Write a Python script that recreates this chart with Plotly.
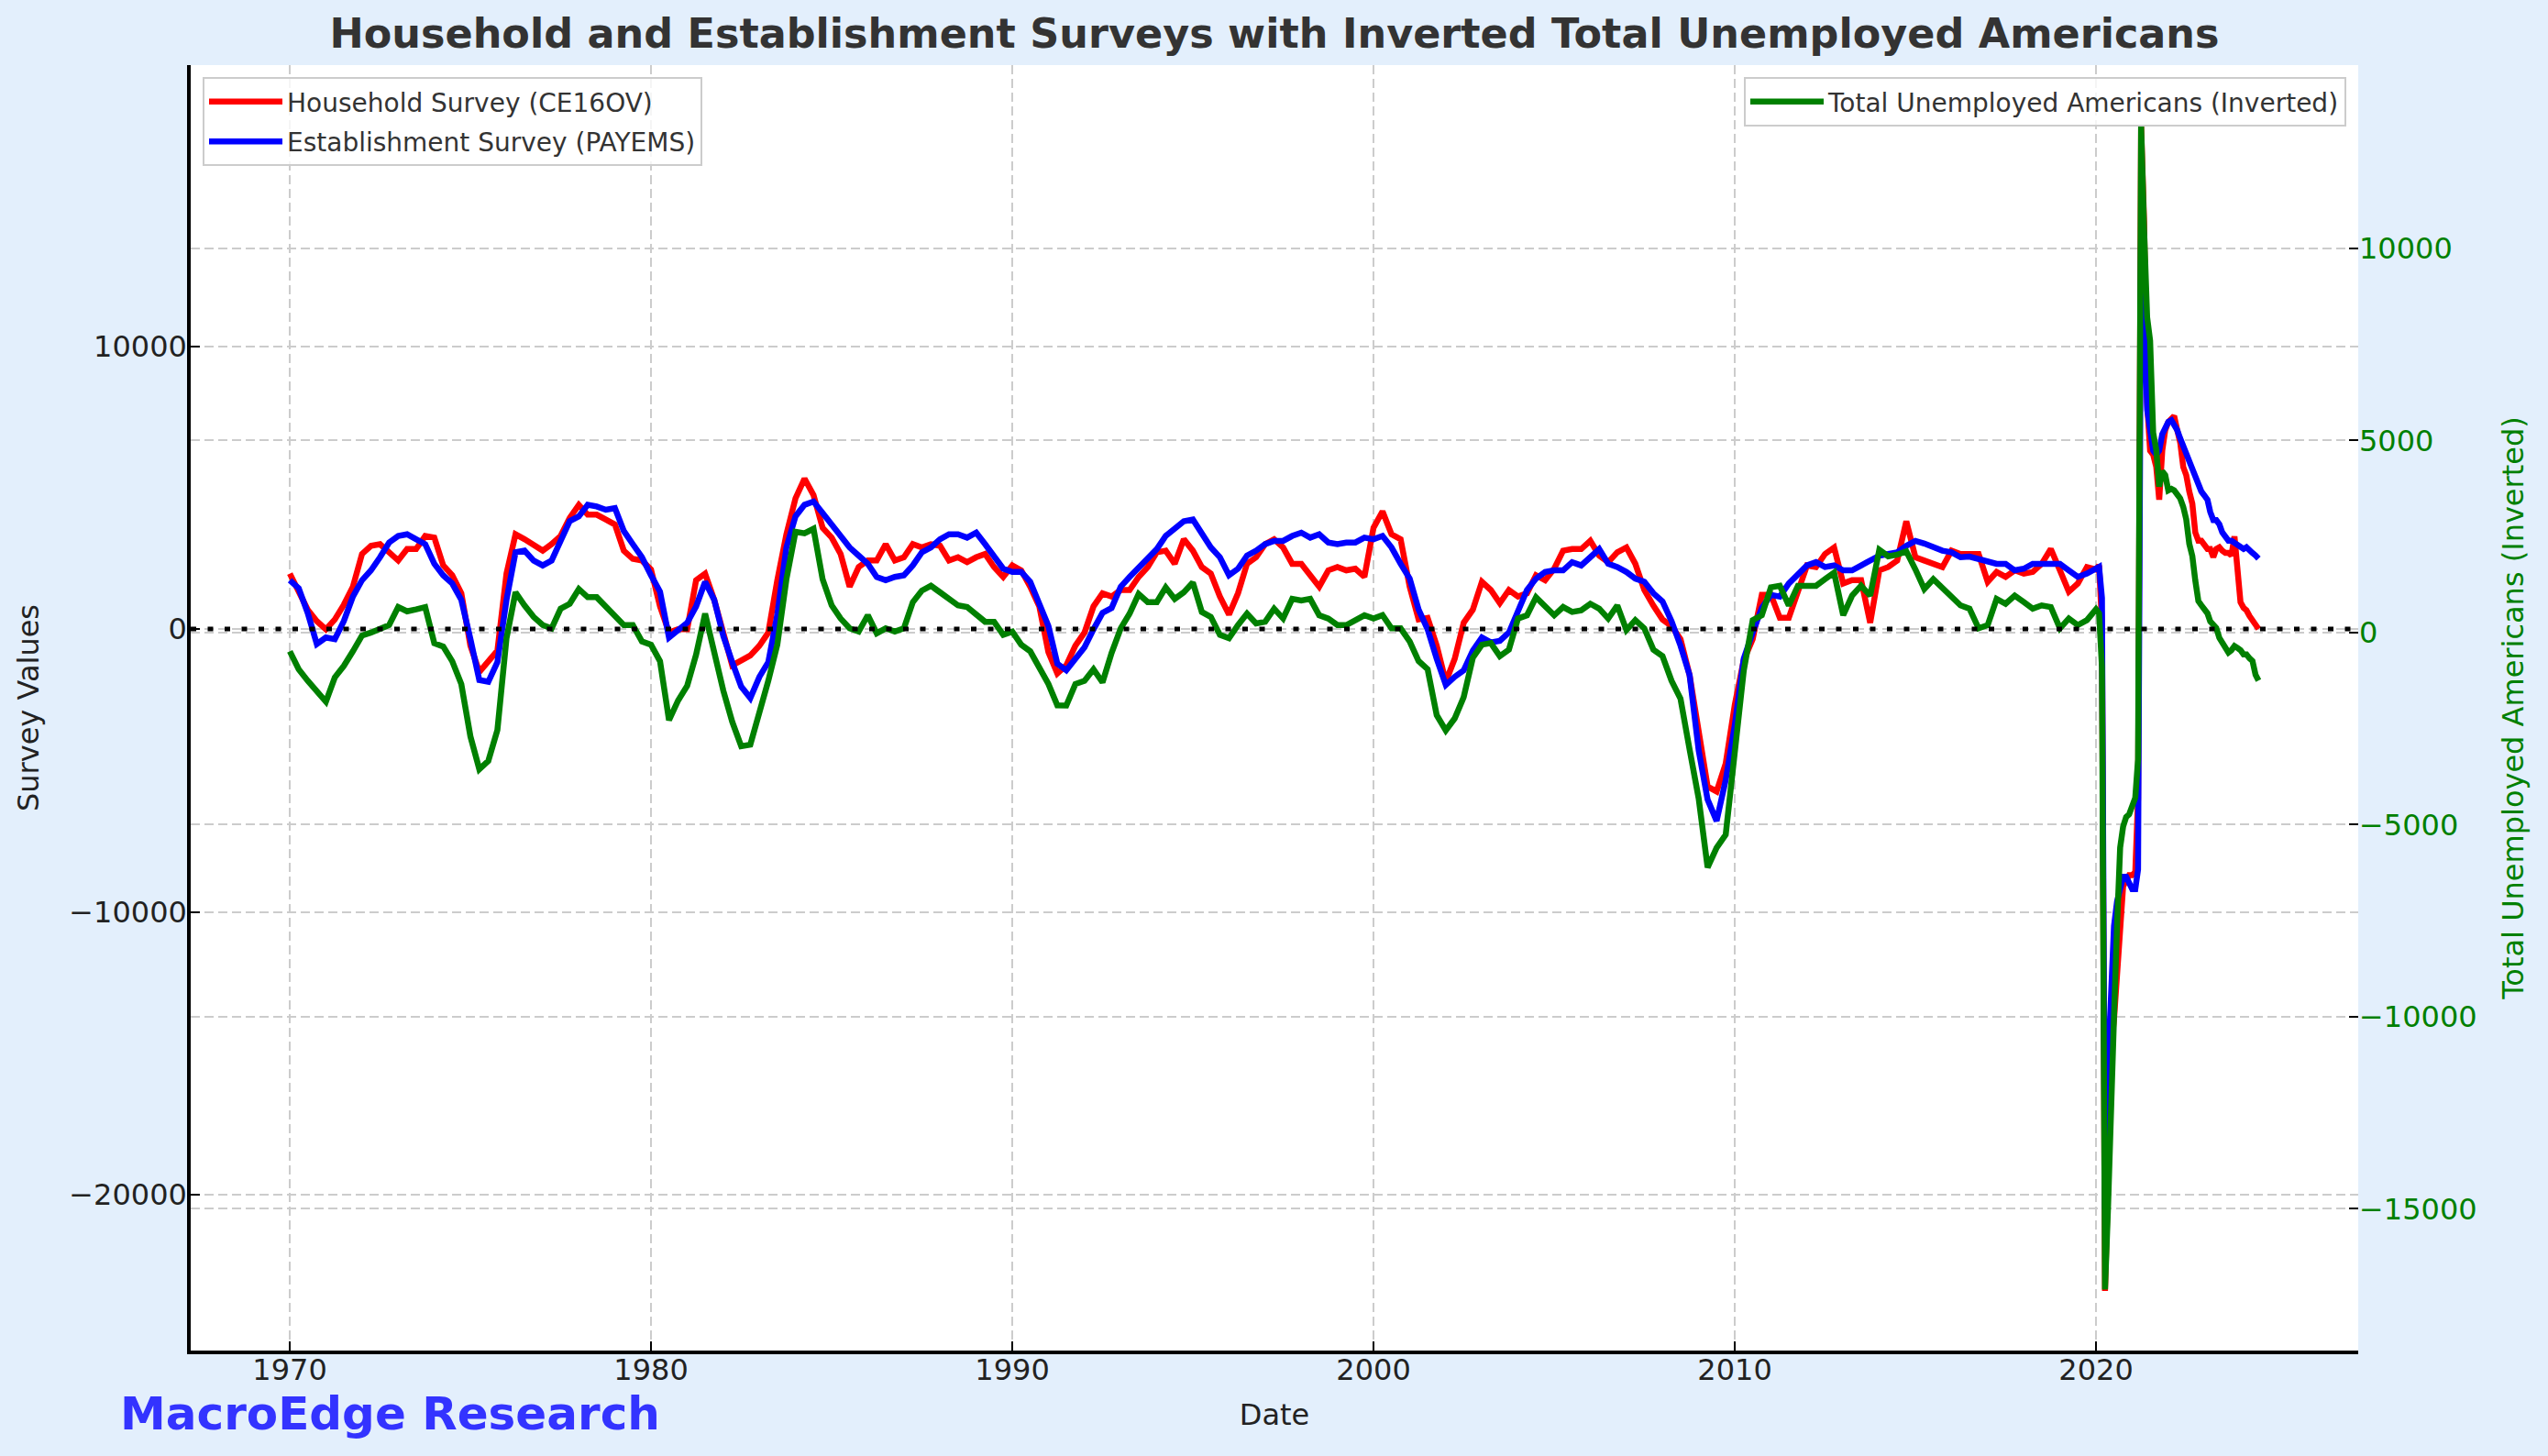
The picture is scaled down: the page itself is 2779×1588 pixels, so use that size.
import pandas as pd
import plotly.graph_objects as go

# ---------------- data (YoY change, thousands) ----------------
quarter_dates = pd.date_range("1970-01-01", "2019-10-01", freq="QS")
month_dates = pd.date_range("2020-01-01", "2024-07-01", freq="MS")

household_q = [
    1957, 1262, 683, 278, -12, 336, 857, 1494, 2652, 2941, 2999, 2710,
    2420, 2826, 2826, 3289, 3231, 2247, 1899, 1262, -591, -1517, -1170, -764,
    1957, 3347, 3173, 2999, 2768, 2999, 3289, 3926, 4389, 4041, 4041, 3868,
    3694, 2768, 2478, 2420,
    2100, 799, -127, -12, -12, 1725, 1957, 1031, -127, -1285, -1112, -938,
    -591, -127, 1725, 3347, 4620, 5315, 4736, 3578, 3231, 2652, 1494, 2189,
    2420, 2420, 2999, 2420, 2536, 2999, 2883, 2999, 2941, 2420, 2536, 2362,
    2536, 2652, 2189, 1841,
    2247, 2073, 1494, 799, -822, -1575, -1285, -591, -127, 799, 1262, 1146,
    1378, 1378, 1841, 2189, 2710, 2768, 2304, 3173, 2768, 2189, 1957, 1146,
    510, 1262, 2304, 2536, 2999, 3173, 2883, 2304, 2304, 1899, 1494, 2073,
    2189, 2073, 2131, 1841,
    3578, 4157, 3347, 3173, 1494, 336, 394, -591, -1864, -1054, 220, 683,
    1668, 1378, 915, 1378, 1146, 1262, 1899, 1725, 2131, 2768, 2826, 2826,
    3115, 2594, 2362, 2710, 2883, 2304, 1378, 822, 336, 104, -359, -1633,
    -3717, -5570, -5744, -4759,
    -2675, -1112, -359, 1204, 1204, 394, 394, 1262, 2247, 2189, 2652, 2883,
    1610, 1725, 1725, 220, 2073, 2189, 2420, 3810, 2536, 2420, 2304, 2189,
    2768, 2652, 2652, 2652, 1668, 2015, 1841, 2073, 1957, 2015, 2304, 2826,
    2073, 1320, 1610, 2189,
]
household_m = [
    2100, 2250, 200, -23400, -19700, -14800, -13800, -12400, -10700, -9100, -8900, -8700,
    -8700, -8600, -6000, 17800, 14400, 8000, 6300, 6160, 5730, 4570, 6310, 7030,
    7320, 7470, 7530, 7030, 6600, 5730, 5440, 4860, 4430, 3410, 3120, 3120,
    2980, 2830, 2830, 2540, 2830, 2890, 2770, 2690, 2690, 2600, 3270, 2250,
    950, 750, 660, 460, 280, 140, 0,
]

establishment_q = [
    1725, 1436, 567, -533, -301, -359, 278, 1146, 1725, 2073, 2536, 3057,
    3289, 3347, 3173, 2999, 2304, 1899, 1610, 1031, -359, -1806, -1864, -1170,
    1031, 2710, 2768, 2420, 2247, 2420, 3115, 3810, 3983, 4389, 4331, 4215,
    4273, 3462, 2999, 2536,
    1899, 1320, -301, -12, 220, 799, 1668, 1031, -243, -1170, -2038, -2443,
    -1691, -1170, 510, 2883, 3983, 4389, 4505, 4099, 3694, 3231, 2883, 2594,
    2304, 1841, 1725, 1841, 1899, 2247, 2710, 2883, 3173, 3347, 3347, 3231,
    3405, 2999, 2536, 2131,
    2015, 2015, 1668, 915, 104, -1227, -1459, -1054, -648, -12, 567, 741,
    1494, 1841, 2189, 2536, 2826, 3289, 3578, 3810, 3868, 3405, 2883, 2536,
    1899, 2131, 2594, 2768, 2999, 3115, 3115, 3289, 3405, 3231, 3347, 3057,
    2999, 3057, 3057, 3231,
    3173, 3289, 2883, 2304, 1783, 683, -12, -1054, -1980, -1691, -1459, -764,
    -301, -475, -417, -127, 683, 1378, 1783, 2015, 2073, 2073, 2362, 2247,
    2536, 2826, 2304, 2189, 2015, 1783, 1668, 1262, 973, 278, -591, -1633,
    -4296, -6033, -6786, -5339,
    -3400, -1054, -127, 741, 1204, 1146, 1610, 1957, 2247, 2362, 2189, 2247,
    2073, 2073, 2247, 2420, 2594, 2652, 2710, 2941, 3115, 3022, 2883, 2768,
    2710, 2536, 2560, 2478, 2362, 2304, 2304, 2073, 2131, 2304, 2304, 2304,
    2304, 2073, 1841, 1957,
]
establishment_m = [
    2110, 2197, 1095, -20500, -15500, -12500, -10500, -9630, -9050, -8760, -8760, -9050,
    -9200, -9200, -8500, 13800, 11700, 7760, 6890, 6310, 6165, 6310, 6890, 7170,
    7320, 7380, 7240, 7030, 6740, 6450, 6165, 6020, 5730, 5440, 5150, 4860,
    4720, 4570, 4140, 3850, 3850, 3700, 3410, 3270, 3120, 3120, 3030, 2980,
    2890, 2830, 2890, 2750, 2690, 2600, 2490,
]

unemployed_inv_q = [
    -488, -957, -1255, -1552, -1800, -1168, -870, -488, -79, -2, 109, 194,
    663, 552, 603, 663, -277, -363, -746, -1343, -2704, -3557, -3344, -2534,
    -147, 1047, 706, 407, 194, 109, 620, 748, 1132, 919, 919, 663,
    450, 194, 194, -232,
    -317, -746, -2280, -1768, -1386, -576, 492, -576, -1513, -2323, -2960, -2917,
    -2108, -1255, -317, 1388, 2624, 2581, 2700, 1388, 706, 365, 109, 24,
    450, -19, 109, 24, 109, 791, 1089, 1217, 1047, 876, 706, 663,
    450, 280, 280, -61,
    24, -317, -488, -914, -1340, -1894, -1900, -1340, -1255, -957, -1298, -531,
    109, 492, 1004, 791, 791, 1175, 876, 1047, 1302, 535, 407, -61,
    -147, 194, 492, 237, 280, 620, 365, 876, 833, 876, 450, 365,
    194, 194, 322, 450,
    365, 450, 109, 109, -232, -743, -957, -2150, -2550, -2235, -1682, -659,
    -317, -274, -615, -445, 365, 450, 919, 706, 450, 663, 535, 578,
    748, 620, 365, 706, 66, 322, 109, -445, -615, -1255, -1724, -3045,
    -4324, -6114, -5603, -5262,
    -3200, -1000, 322, 450, 1175, 1217, 706, 1217, 1217, 1217, 1388, 1558,
    450, 961, 1217, 961, 2155, 1984, 2027, 2112, 1643, 1132, 1388, 1175,
    961, 706, 620, 109, 194, 876, 748, 961, 791, 620, 706, 663,
    109, 365, 194, 322,
]
unemployed_inv_m = [
    606, 500, -900, -17100, -15000, -11700, -10000, -7600, -5600, -5050, -4800, -4730,
    -4510, -4300, -3300, 13200, 10500, 8200, 7600, 5200, 4760, 3800, 4200, 4100,
    3700, 3740, 3700, 3590, 3490, 3270, 2950, 2310, 1990, 1350, 820, 710,
    610, 500, 290, 180, 120, -140, -250, -400, -520, -460, -350, -400,
    -460, -570, -570, -670, -740, -1100, -1250,
]

dates = list(quarter_dates) + list(month_dates)
household = household_q + household_m
establishment = establishment_q + establishment_m
unemployed_inv = unemployed_inv_q + unemployed_inv_m
assert len(household) == len(dates) == len(establishment) == len(unemployed_inv)

x_ticks = ["1970-01-01", "1980-01-01", "1990-01-01", "2000-01-01", "2010-01-01", "2020-01-01"]
x_ticktext = ["1970", "1980", "1990", "2000", "2010", "2020"]
left_ticks = [-20000, -10000, 0, 10000]
left_ticktext = ["\u221220000", "\u221210000", "0", "10000"]
right_ticks = [-15000, -10000, -5000, 0, 5000, 10000]
right_ticktext = ["\u221215000", "\u221210000", "\u22125000", "0", "5000", "10000"]

X_RANGE = ["1967-04-05", "2027-04-05"]
Y_RANGE = [-25510, 19935]
Y2_RANGE = [-18690, 14770]

FONT = "DejaVu Sans"
GRID = "#cccccc"
BG = "#e3effc"

fig = go.Figure()
fig.add_trace(go.Scatter(x=dates, y=household, mode="lines", name="Household Survey (CE16OV)",
                         line=dict(color="#ff0000", width=6.5), legend="legend", legendgroup="hh"))
fig.add_trace(go.Scatter(x=dates, y=establishment, mode="lines", name="Establishment Survey (PAYEMS)",
                         line=dict(color="#0000ff", width=6.5), legend="legend", legendgroup="es"))
fig.add_trace(go.Scatter(x=dates, y=unemployed_inv, mode="lines", name="Total Unemployed Americans (Inverted)",
                         line=dict(color="#008000", width=6.5), yaxis="y2", legend="legend2"))

fig.add_shape(type="line", xref="x domain", x0=0, x1=1, yref="y", y0=0, y1=0,
              line=dict(color="black", width=5, dash="6px,12.5px"), layer="above")

tick_font = dict(family=FONT, size=32, color="#222222")
fig.update_layout(
    width=2779, height=1588, autosize=False,
    paper_bgcolor=BG, plot_bgcolor="white",
    margin=dict(l=208, r=207, t=71, b=115, autoexpand=False),
    font=dict(family=FONT, color="#222222"),
    title=dict(text="Household and Establishment Surveys with Inverted Total Unemployed Americans",
               font=dict(family=FONT, size=44.5, color="#333333", weight="bold"),
               x=0.5, xref="paper", xanchor="center", y=0.977, yref="container", yanchor="middle"),
    xaxis=dict(type="date", range=X_RANGE, tickvals=x_ticks, ticktext=x_ticktext,
               showline=True, linecolor="black", linewidth=3.5, automargin=False,
               ticks="inside", ticklen=10, tickwidth=2, tickcolor="black",
               showgrid=True, gridcolor=GRID, gridwidth=1.5, griddash="10px,5px",
               zeroline=False, tickfont=tick_font, ticklabelstandoff=-10,
               title=dict(text="Date", font=dict(family=FONT, size=32, color="#222222"), standoff=20)),
    yaxis=dict(range=Y_RANGE, tickvals=left_ticks, ticktext=left_ticktext,
               showline=True, linecolor="black", linewidth=3.5, automargin=False,
               ticks="inside", ticklen=10, tickwidth=2, tickcolor="black",
               showgrid=True, gridcolor=GRID, gridwidth=1.5, griddash="10px,5px",
               zeroline=False, tickfont=tick_font, ticklabelstandoff=-6,
               title=dict(text="Survey Values", font=dict(family=FONT, size=32, color="#222222"), standoff=24)),
    yaxis2=dict(range=Y2_RANGE, tickvals=right_ticks, ticktext=right_ticktext,
                overlaying="y", side="right", showline=False, automargin=False,
                ticks="inside", ticklen=10, tickwidth=2, tickcolor="black",
                showgrid=True, gridcolor=GRID, gridwidth=1.5, griddash="10px,5px",
                zeroline=False, tickfont=dict(family=FONT, size=32, color="#008000"),
                title=dict(text="Total Unemployed Americans (Inverted)",
                           font=dict(family=FONT, size=32, color="#008000"), standoff=28)),
    legend=dict(x=0.0055, y=0.9907, xanchor="left", yanchor="top", tracegroupgap=4,
                bgcolor="rgba(255,255,255,0.8)", bordercolor="#cccccc", borderwidth=2,
                font=dict(family=FONT, size=28, color="#333333"), itemwidth=80),
    legend2=dict(x=0.9945, y=0.9907, xanchor="right", yanchor="top",
                 bgcolor="rgba(255,255,255,0.8)", bordercolor="#cccccc", borderwidth=2,
                 font=dict(family=FONT, size=28, color="#333333"), itemwidth=80),
    annotations=[dict(text="MacroEdge Research", xref="paper", yref="paper",
                      x=-0.0334, y=-0.0492, xanchor="left", yanchor="middle", showarrow=False,
                      font=dict(family=FONT, size=50, color="#3333ff", weight="bold"))],
)

fig.write_html(
    "out.html",
    config={"displayModeBar": False},
    post_script="document.body.style.margin='0px';document.body.style.background='" + BG + "';",
)
